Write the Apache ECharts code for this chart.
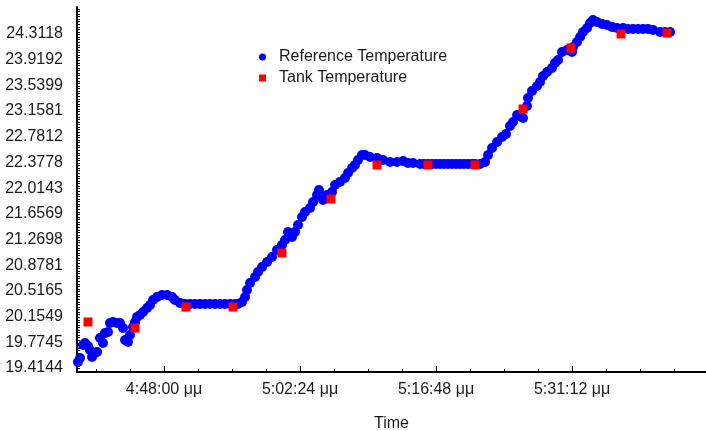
<!DOCTYPE html>
<html>
<head>
<meta charset="utf-8">
<script src="https://cdn.jsdelivr.net/npm/echarts@6/dist/echarts.min.js"></script>
<style>
  html, body { margin: 0; padding: 0; background: #ffffff; }
  #chart { width: 706px; height: 431px; }
</style>
</head>
<body>
<div id="chart"></div>
<script>
// time in minutes after midnight (1008 = 4:48:00 pm), temperature in °C
const refTimes = [
  998.89, 999.11, 999.42, 999.64, 999.95, 1000.16, 1000.38, 1000.48, 1000.69, 1000.91,
  1001.22, 1001.54, 1001.75, 1002.07, 1002.28, 1002.60, 1003.02, 1003.34, 1003.66, 1003.87,
  1004.19, 1004.40, 1004.72, 1004.93, 1005.14, 1005.46, 1005.78, 1006.20, 1006.52, 1006.84,
  1007.26, 1007.79, 1008.32, 1008.85, 1009.16, 1009.69, 1010.22, 1010.75, 1011.28, 1011.81,
  1012.34, 1012.87, 1013.40, 1013.93, 1014.46, 1014.99, 1015.52, 1015.84, 1016.26, 1016.58,
  1016.79, 1017.11, 1017.64, 1017.95, 1018.38, 1018.91, 1019.44, 1019.96, 1020.49, 1020.81,
  1021.13, 1021.55, 1021.87, 1022.19, 1022.61, 1022.93, 1023.46, 1023.78, 1024.20, 1024.41,
  1024.83, 1025.26, 1025.79, 1026.11, 1026.63, 1027.16, 1027.48, 1027.91, 1028.22, 1028.54,
  1028.96, 1029.28, 1029.81, 1030.55, 1031.19, 1031.93, 1032.67, 1033.31, 1033.83, 1034.36,
  1035.11, 1035.53, 1035.95, 1036.38, 1036.80, 1037.22, 1037.65, 1038.07, 1038.49, 1038.92,
  1039.34, 1039.76, 1040.19, 1040.61, 1040.93, 1041.46, 1041.99, 1042.31, 1042.73, 1043.26,
  1043.79, 1044.21, 1044.63, 1044.95, 1045.38, 1045.69, 1046.01, 1046.43, 1046.54, 1046.96,
  1047.49, 1047.81, 1048.13, 1048.55, 1049.08, 1049.40, 1049.72, 1050.14, 1050.67, 1051.20,
  1051.31, 1051.73, 1052.05, 1052.36, 1052.79, 1053.11, 1053.42, 1053.85, 1054.38, 1054.91,
  1055.43, 1055.96, 1056.60, 1057.13, 1057.66, 1058.19, 1058.72, 1059.25, 1059.78, 1060.52,
  1061.05, 1061.58
];
const refTemps = [
  19.473, 19.532, 19.722, 19.752, 19.708, 19.649, 19.546, 19.605, 19.605, 19.620,
  19.825, 19.752, 19.898, 19.913, 20.045, 20.060, 20.045, 20.045, 19.972, 19.796,
  19.766, 19.869, 19.986, 20.060, 20.133, 20.162, 20.206, 20.265, 20.309, 20.382,
  20.426, 20.455, 20.455, 20.426, 20.382, 20.338, 20.323, 20.323, 20.323, 20.323,
  20.323, 20.323, 20.323, 20.323, 20.323, 20.323, 20.323, 20.323, 20.353, 20.426,
  20.529, 20.631, 20.719, 20.793, 20.866, 20.939, 21.013, 21.115, 21.189, 21.262,
  21.379, 21.306, 21.379, 21.482, 21.599, 21.672, 21.731, 21.819, 21.922, 21.995,
  21.848, 21.922, 21.966, 22.068, 22.112, 22.171, 22.244, 22.318, 22.362, 22.435,
  22.508, 22.508, 22.479, 22.464, 22.435, 22.406, 22.406, 22.420, 22.391, 22.391,
  22.376, 22.376, 22.376, 22.376, 22.376, 22.376, 22.376, 22.376, 22.376, 22.376,
  22.376, 22.376, 22.376, 22.376, 22.376, 22.376, 22.406, 22.508, 22.611, 22.699,
  22.772, 22.816, 22.934, 22.992, 23.095, 23.080, 23.051, 23.227, 23.344, 23.447,
  23.520, 23.579, 23.667, 23.725, 23.784, 23.857, 23.901, 24.019, 24.048, 24.019,
  24.092, 24.165, 24.239, 24.312, 24.371, 24.444, 24.488, 24.459, 24.429, 24.414,
  24.385, 24.371, 24.371, 24.356, 24.356, 24.356, 24.356, 24.356, 24.341, 24.312,
  24.312, 24.312
];

const tankTimes = [
  999.95, 1004.93, 1010.33, 1015.31, 1020.49, 1025.68, 1030.55,
  1035.95, 1040.93, 1046.01, 1051.09, 1056.39, 1061.26
];
const tankTemps = [
  20.060, 19.972, 20.279, 20.279, 21.071, 21.863, 22.362,
  22.362, 22.362, 23.183, 24.077, 24.283, 24.297
];

const yTickLabels = [
  '19.4144', '19.7745', '20.1549', '20.5165', '20.8781', '21.2698', '21.6569',
  '22.0143', '22.3778', '22.7812', '23.1581', '23.5399', '23.9192', '24.3118'
];
const xTickLabels = ['4:48:00 μμ', '5:02:24 μμ', '5:16:48 μμ', '5:31:12 μμ'];
const xTickTimes = [1008, 1022.4, 1036.8, 1051.2];

const FONT = 'Liberation Sans, Arial, sans-serif';
const INK = '#1a1a1a';

// y labels are drawn evenly spaced between the first and last label value
const yFirst = parseFloat(yTickLabels[0]);
const yLast = parseFloat(yTickLabels[yTickLabels.length - 1]);
const yStep = (yLast - yFirst) / (yTickLabels.length - 1);
const yLabelPos = yTickLabels.map((_, i) => yFirst + i * yStep);
const yMin = yFirst - yStep * 0.2335;
const yMax = yLast + yStep * 0.973;

const xStep = xTickTimes[1] - xTickTimes[0];
const xMin = xTickTimes[0] - xStep * 0.6397;
const xMax = xTickTimes[0] + xStep * 3.985;

const yRuler = [];
for (let v = yFirst - yStep; v <= yMax; v += yStep / 10) {
  if (v >= yMin) yRuler.push(v);
}
const xMinor = [];
for (let v = xTickTimes[0] - xStep; v <= xMax; v += xStep / 4) {
  if (v >= xMin) xMinor.push(v);
}

const chart = echarts.init(document.getElementById('chart'), null, { renderer: 'canvas' });

chart.setOption({
  animation: false,
  textStyle: { fontFamily: FONT },
  grid: { left: 77, right: 0, top: 7, bottom: 59, containLabel: false, outerBoundsMode: 'none' },
  legend: {
    orient: 'vertical',
    left: 254,
    top: 43,
    itemWidth: 23,
    itemHeight: 7,
    itemGap: 3,
    textStyle: { fontFamily: FONT, fontSize: 16, color: INK, lineHeight: 18 },
    data: [
      { name: 'Reference Temperature', icon: 'circle' },
      { name: 'Tank Temperature', icon: 'path://M0,0H10V10H0Z' }
    ]
  },
  xAxis: [
    {
      type: 'value',
      min: xMin,
      max: xMax,
      position: 'bottom',
      name: 'Time',
      nameLocation: 'middle',
      nameGap: 44,
      nameTextStyle: { fontFamily: FONT, fontSize: 16, color: INK },
      axisLine: { lineStyle: { color: '#000', width: 2 } },
      axisTick: { inside: true, length: 6, customValues: xTickTimes, lineStyle: { color: '#000' } },
      axisLabel: {
        customValues: xTickTimes,
        margin: 10,
        fontFamily: FONT,
        fontSize: 16,
        color: INK,
        formatter: (v) => xTickLabels[xTickTimes.findIndex(t => Math.abs(t - v) < 0.01)] || ''
      },
      splitLine: { show: false }
    },
    {
      type: 'value',
      min: xMin,
      max: xMax,
      position: 'bottom',
      axisLine: { show: false },
      axisTick: { inside: true, length: 3, customValues: xMinor, lineStyle: { color: '#000' } },
      axisLabel: { show: false },
      splitLine: { show: false }
    }
  ],
  yAxis: [
    {
      type: 'value',
      min: yMin,
      max: yMax,
      position: 'left',
      axisLine: { show: true, lineStyle: { color: '#000', width: 2 } },
      axisTick: { show: false },
      axisLabel: {
        customValues: yLabelPos,
        margin: 14,
        formatter: (v) => '{t|' + yTickLabels[Math.round((v - yFirst) / yStep)] + '}',
        rich: {
          t: { fontFamily: FONT, fontSize: 16, color: INK, padding: [4, 0, 0, 0] }
        }
      },
      splitLine: { show: false }
    },
    {
      type: 'value',
      min: yMin,
      max: yMax,
      position: 'left',
      axisLine: { show: false },
      axisTick: { inside: true, length: 3, customValues: yRuler, lineStyle: { color: '#000' } },
      axisLabel: { show: false },
      splitLine: { show: false }
    }
  ],
  series: [
    {
      name: 'Reference Temperature',
      type: 'scatter',
      symbol: 'circle',
      symbolSize: 10,
      itemStyle: { color: '#0000ff', opacity: 1 },
      data: refTimes.map((t, i) => [t, refTemps[i]])
    },
    {
      name: 'Tank Temperature',
      type: 'scatter',
      symbol: 'rect',
      symbolSize: 9,
      itemStyle: { color: '#ff0000', opacity: 1 },
      data: tankTimes.map((t, i) => [t, tankTemps[i]])
    }
  ]
});
</script>
</body>
</html>
